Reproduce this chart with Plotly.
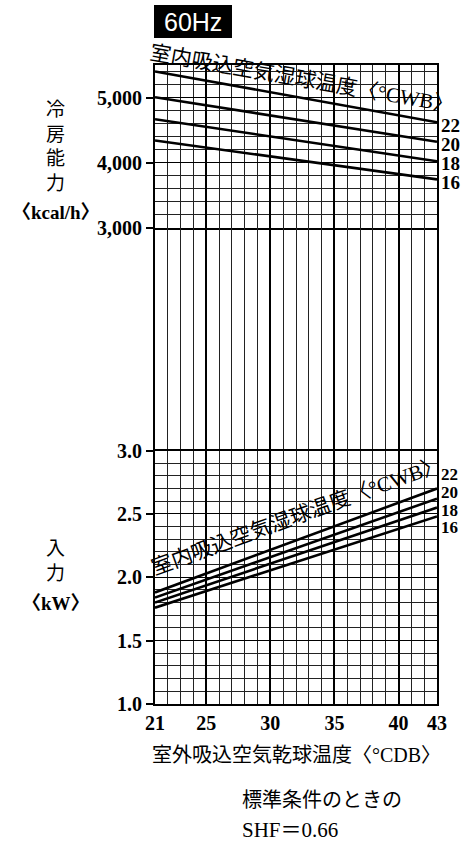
import plotly.graph_objects as go
from plotly.subplots import make_subplots

# ---------------- data ----------------
outdoor_db = [21, 43]                 # 室外吸込空気乾球温度 (°CDB)
wb_labels = ["22", "20", "18", "16"]  # 室内吸込空気湿球温度 (°CWB)

cap_wb22 = [5400, 4620]   # 冷房能力 kcal/h
cap_wb20 = [5005, 4318]
cap_wb18 = [4665, 4020]
cap_wb16 = [4338, 3740]

pow_wb22 = [1.88, 2.70]   # 入力 kW
pow_wb20 = [1.84, 2.62]
pow_wb18 = [1.80, 2.55]
pow_wb16 = [1.76, 2.48]

x_ticks = [21, 25, 30, 35, 40, 43]

# ---------------- layout helpers ----------------
W, H = 462, 842
L, R, T, B = 155, 437, 65, 704


def px(x):
    return (x - L) / (R - L)


def py(y):
    return (B - y) / (B - T)


SERIF = "Liberation Serif, Noto Sans CJK JP"
CJK = "Liberation Serif, Noto Sans CJK JP"

fig = make_subplots(rows=3, cols=1, shared_xaxes=True, vertical_spacing=0,
                    row_heights=[162.5, 223, 253.5])

for vals in [cap_wb22, cap_wb20, cap_wb18, cap_wb16]:
    fig.add_trace(go.Scatter(x=outdoor_db, y=vals, mode="lines",
                             line=dict(color="black", width=2.6),
                             hoverinfo="skip"), row=1, col=1)
# empty trace so that the middle (grid-only) panel is drawn
fig.add_trace(go.Scatter(x=[], y=[], mode="lines", hoverinfo="skip"), row=2, col=1)
for vals in [pow_wb22, pow_wb20, pow_wb18, pow_wb16]:
    fig.add_trace(go.Scatter(x=outdoor_db, y=vals, mode="lines",
                             line=dict(color="black", width=2.6),
                             hoverinfo="skip"), row=3, col=1)

xcommon = dict(range=[21, 43], tickmode="array", tickvals=x_ticks,
               showgrid=True, gridcolor="black", gridwidth=1.8,
               minor=dict(tickmode="linear", tick0=21, dtick=1, showgrid=True,
                          gridcolor="#222", gridwidth=1),
               showline=True, linecolor="black", linewidth=1.6, mirror=True,
               ticks="", zeroline=False)
for r in (1, 2, 3):
    fig.update_xaxes(row=r, col=1, **xcommon)
fig.update_xaxes(row=2, col=1, showline=False)
fig.update_xaxes(row=3, col=1, showticklabels=True,
                 tickfont=dict(family=SERIF, size=20, color="black", weight="bold"),
                 ticklabelstandoff=0)

ycommon = dict(showline=True, linecolor="black", linewidth=1.8, mirror=True,
               zeroline=False, ticks="outside", ticklen=7, tickwidth=1.5,
               tickcolor="black",
               tickfont=dict(family=SERIF, size=20, color="black", weight="bold"))
fig.update_yaxes(row=1, col=1, range=[3000, 5500], tickmode="linear", tick0=0,
                 dtick=1000, tickformat=",d", showgrid=True, gridcolor="black",
                 gridwidth=1.3,
                 minor=dict(tickmode="linear", tick0=0, dtick=200, showgrid=True,
                            gridcolor="#222", gridwidth=1),
                 **ycommon)
fig.update_yaxes(row=2, col=1, range=[0, 1], showgrid=False, showticklabels=False,
                 showline=True, linecolor="black", linewidth=1.8, mirror=True,
                 ticks="", zeroline=False)
fig.update_yaxes(row=3, col=1, range=[1.0, 3.0], tickmode="linear", tick0=0,
                 dtick=0.5, tickformat=".1f", showgrid=True, gridcolor="black",
                 gridwidth=1.3,
                 minor=dict(tickmode="linear", tick0=0, dtick=0.1, showgrid=True,
                            gridcolor="#222", gridwidth=1),
                 **ycommon)

ann = []


def text(x, y, s, size=20, angle=0, family=CJK, xanchor="center", color="black",
         weight="normal"):
    ann.append(dict(x=px(x), y=py(y), xref="paper", yref="paper", text=s,
                    showarrow=False, textangle=angle, xanchor=xanchor,
                    yanchor="middle",
                    font=dict(family=family, size=size, color=color,
                              weight=weight)))


# 60Hz badge
fig.add_shape(type="rect", xref="paper", yref="paper",
              x0=px(154), x1=px(232), y0=py(38), y1=py(5),
              fillcolor="black", line=dict(width=0))
text(193, 22, "60Hz", size=25, family="Liberation Sans, Arial", color="white")

# rotated curve-family labels
text(302, 79, "室内吸込空気湿球温度〈°CWB〉", size=21, angle=10)
text(297, 516, "室内吸込空気湿球温度〈°CWB〉", size=21, angle=-20)

# right-end WB labels
for lab, yy in zip(wb_labels, [125, 144, 163, 182]):
    text(439, yy, lab, size=19, family=SERIF, xanchor="left", weight="bold")
for lab, yy in zip(wb_labels, [475, 492, 510, 527]):
    text(439, yy, lab, size=17, family=SERIF, xanchor="left", weight="bold")

# left axis titles
text(55, 146, "冷<br>房<br>能<br>力", size=19)
text(56, 212, "〈kcal/h〉", size=19, family=SERIF, weight="bold")
text(55, 561, "入<br>力", size=19)
text(56, 603, "〈kW〉", size=19, family=SERIF, weight="bold")

# x title and notes
text(296, 755, "室外吸込空気乾球温度〈°CDB〉", size=20)
text(240, 800, "標準条件のときの", size=20, xanchor="left")
text(240, 830, "SHF＝0.66", size=21, family=SERIF, xanchor="left")

fig.update_layout(width=W, height=H, annotations=ann, showlegend=False,
                  margin=dict(l=L, r=W - R, t=T, b=H - B),
                  plot_bgcolor="white", paper_bgcolor="white")

fig.write_html("out.html", config={"displayModeBar": False},
               post_script="document.body.style.margin='0';document.body.style.overflow='hidden';")
